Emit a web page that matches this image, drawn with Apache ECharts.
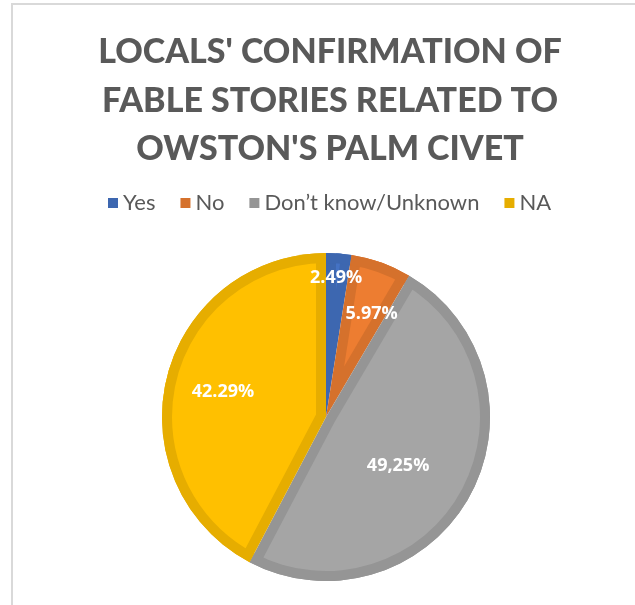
<!DOCTYPE html>
<html>
<head>
<meta charset="utf-8">
<style>
  html, body { margin: 0; padding: 0; background: #ffffff; }
  #chart { width: 635px; height: 605px; }
</style>
<script src="https://cdn.jsdelivr.net/npm/echarts@6/dist/echarts.min.js"></script>
</head>
<body>
<div id="chart"></div>
<script>
// Survey answers and their shares (percent)
const categories = ['Yes', 'No', 'Don’t know/Unknown', 'NA'];
const values = [2.49, 5.97, 49.25, 42.29];
const valueLabels = ['2.49%', '5.97%', '49,25%', '42.29%'];

const titleText = "LOCALS' CONFIRMATION OF\nFABLE STORIES RELATED TO\nOWSTON'S PALM CIVET";

// Palette: slice fill and its darker edge band
const fillColors = ['#4472C4', '#ED7D31', '#A5A5A5', '#FFC000'];
const edgeColors = ['#3D67B0', '#D5712C', '#959595', '#E6AD00'];

// Pie geometry
const CX = 326, CY = 417, R = 164, EDGE = 10;
// distance of each value label from the centre, and a small angular nudge (deg, clockwise)
const labelDist = [136, 110, 84, 103];
const labelTurn = [-0.3, 4.1, 4.9, -0.4];

const FONT = 'Lato, "Open Sans", sans-serif';
const LABEL_FONT = '"Open Sans", Lato, sans-serif';
const total = values.reduce((a, b) => a + b, 0);

function baseData(colors) {
  return categories.map((name, i) => ({
    name, value: values[i],
    itemStyle: { color: colors[i], borderWidth: 0 }
  }));
}

const series = [];

// dark base disc: shows through as the band along each radial edge
series.push({
  type: 'pie', silent: true, center: [CX, CY], radius: R,
  startAngle: 90, clockwise: true, animation: false,
  label: { show: false }, labelLine: { show: false },
  data: baseData(edgeColors)
});

// lighter inner face of each slice, apex pushed along its bisector so the
// face sits a constant EDGE width inside both radial edges
let cum = 0;
values.forEach((v, i) => {
  const a0 = cum / total * 2 * Math.PI;
  cum += v;
  const a1 = cum / total * 2 * Math.PI;
  const mid = (a0 + a1) / 2;
  const half = (a1 - a0) / 2;
  const d = EDGE / Math.sin(Math.min(half, Math.PI / 2));
  series.push({
    type: 'pie', silent: true,
    center: [CX + d * Math.sin(mid), CY - d * Math.cos(mid)],
    radius: Math.max(R - d, 1),
    startAngle: 90, clockwise: true, animation: false,
    label: { show: false }, labelLine: { show: false },
    data: categories.map((name, j) => ({
      name, value: values[j],
      itemStyle: { color: j === i ? fillColors[j] : 'rgba(0,0,0,0)', borderWidth: 0 }
    }))
  });
});

// dark outer rim
series.push({
  type: 'pie', silent: true, center: [CX, CY], radius: [R - EDGE, R],
  startAngle: 90, clockwise: true, animation: false,
  label: { show: false }, labelLine: { show: false },
  data: baseData(edgeColors)
});

// value labels, one transparent carrier ring per label
values.forEach((v, i) => {
  series.push({
    type: 'pie', silent: true, center: [CX, CY], radius: labelDist[i] * 2,
    startAngle: 90 - labelTurn[i], clockwise: true, animation: false,
    label: { show: false }, labelLine: { show: false },
    data: categories.map((name, j) => ({
      name, value: values[j],
      itemStyle: { color: 'rgba(0,0,0,0)', borderWidth: 0 },
      label: j === i ? {
        show: true, position: 'inside', formatter: valueLabels[j],
        color: '#ffffff', fontSize: 18, fontWeight: 'bold', fontFamily: LABEL_FONT
      } : { show: false }
    }))
  });
});

const chart = echarts.init(document.getElementById('chart'), null, { renderer: 'canvas' });
chart.setOption({
  backgroundColor: '#ffffff',
  animation: false,
  title: {
    text: titleText,
    left: 325, top: 23, textAlign: 'center',
    textStyle: {
      fontFamily: FONT, fontSize: 34, fontWeight: 900,
      color: '#595959', lineHeight: 48.5
    }
  },
  legend: {
    left: 103, top: 187,
    icon: 'rect', itemWidth: 10, itemHeight: 10, itemGap: 25,
    selectedMode: false,
    textStyle: { fontFamily: FONT, fontSize: 22, color: '#595959' },
    data: categories.map((name, i) => ({ name, itemStyle: { color: edgeColors[i], borderWidth: 0 } }))
  },
  graphic: [{
    type: 'polyline', silent: true,
    shape: { points: [[12, 605], [12, 4], [635, 4]] },
    style: { stroke: '#D9D9D9', lineWidth: 2, fill: null }
  }],
  series
});
</script>
</body>
</html>
